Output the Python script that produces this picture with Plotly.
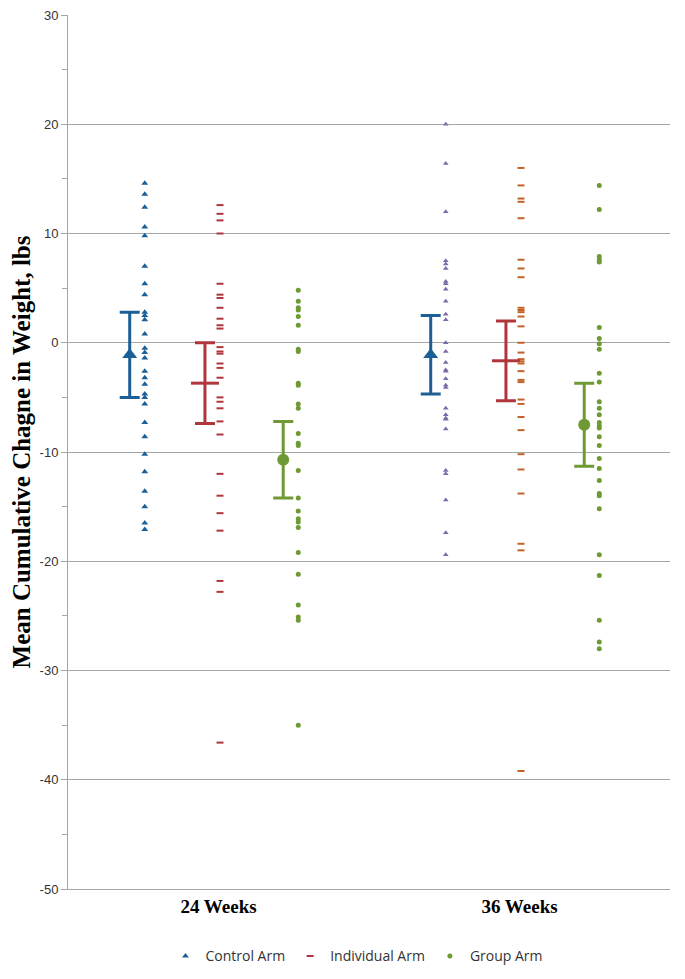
import plotly.graph_objects as go

categories = ["24 Weeks", "36 Weeks"]

control_24 = [14.6, 13.6, 12.4, 10.6, 9.8, 7.0, 5.4, 4.4, 2.8, 2.5, 2.1, 0.8, -0.5, -0.9, -1.4,
              -2.6, -3.2, -3.8, -4.7, -5.0, -5.6, -7.3, -8.6, -10.2, -11.8, -13.6, -15.0, -16.5, -17.1]
individual_24 = [12.6, 11.8, 11.2, 10.0, 5.4, 4.4, 4.1, 3.2, 2.2, 1.6, 1.3, -0.4, -0.8, -1.0, -1.9,
                 -2.3, -3.2, -5.0, -5.4, -6.0, -7.2, -8.4, -12.0, -14.0, -15.6, -17.2, -21.8, -22.8, -36.6]
group_24 = [4.8, 3.8, 3.2, 3.0, 2.4, 1.6, -0.6, -0.8, -3.7, -3.9, -5.6, -6.0, -8.3, -9.2, -9.4,
            -11.7, -14.2, -15.4, -16.1, -16.4, -16.9, -19.2, -21.2, -24.0, -25.1, -25.4, -35.0]

control_36 = [20.0, 16.4, 12.0, 7.5, 7.2, 6.8, 5.6, 5.4, 4.9, 3.8, 2.6, 2.1, 0.0, -0.8, -1.8,
              -2.5, -2.6, -3.3, -3.9, -4.1, -6.0, -6.6, -6.9, -7.0, -7.9, -11.7, -12.0, -14.4, -17.4, -19.4]
individual_36 = [16.0, 14.4, 13.2, 12.9, 11.4, 7.6, 6.8, 6.0, 3.2, 3.0, 2.8, 2.4, 1.5, 0.0, -0.9,
                 -1.5, -1.7, -1.9, -2.6, -3.4, -3.6, -5.2, -5.6, -6.8, -8.0, -10.2, -11.6, -13.8,
                 -18.4, -19.0, -39.2]
group_36 = [14.4, 12.2, 7.9, 7.6, 7.4, 1.4, 0.4, -0.1, -0.6, -2.8, -3.6, -5.4, -6.0, -6.6, -7.3,
            -7.6, -7.8, -8.6, -9.4, -10.6, -11.5, -12.6, -13.8, -14.0, -15.2, -19.4, -21.3, -25.4,
            -27.4, -28.0]

control_mean = [-1.1, -1.1]
control_err = [3.9, 3.6]
individual_mean = [-3.7, -1.65]
individual_err = [3.7, 3.65]
group_mean = [-10.7, -7.5]
group_err = [3.5, 3.8]

y_ticks = [30, 20, 10, 0, -10, -20, -30, -40, -50]
y_tick_labels = ["30", "20", "10", "0", "-10", "-20", "-30", "-40", "-50"]

centers = [0.5, 1.5]

BLUE = "#1C5F96"
PURPLE = "#7A6AA8"
RED = "#B0363C"
ORANGE = "#C2622A"
GREEN = "#6F9A33"
GRID = "#A6A6A6"

fig = go.Figure()

def pts(center, off, vals):
    return [center + off] * len(vals)

# Individual participant points
fig.add_trace(go.Scatter(x=pts(centers[0], -0.245, control_24), y=control_24, mode="markers",
                         name="Control Arm", marker=dict(symbol="triangle-up", size=6, color=BLUE),
                         showlegend=True))
fig.add_trace(go.Scatter(x=pts(centers[1], -0.245, control_36), y=control_36, mode="markers",
                         marker=dict(symbol="triangle-up", size=5, color=PURPLE), showlegend=False))
fig.add_trace(go.Scatter(x=pts(centers[0], 0.005, individual_24), y=individual_24, mode="markers",
                         name="Individual Arm",
                         marker=dict(symbol="line-ew", size=5, color=RED, line=dict(color=RED, width=2)),
                         showlegend=True))
fig.add_trace(go.Scatter(x=pts(centers[1], 0.005, individual_36), y=individual_36, mode="markers",
                         marker=dict(symbol="line-ew", size=5, color=ORANGE, line=dict(color=ORANGE, width=2)),
                         showlegend=False))
fig.add_trace(go.Scatter(x=pts(centers[0], 0.265, group_24), y=group_24, mode="markers",
                         name="Group Arm", marker=dict(symbol="circle", size=5, color=GREEN),
                         showlegend=True))
fig.add_trace(go.Scatter(x=pts(centers[1], 0.265, group_36), y=group_36, mode="markers",
                         marker=dict(symbol="circle", size=5, color=GREEN), showlegend=False))

# Means with error bars
fig.add_trace(go.Scatter(x=[c - 0.295 for c in centers], y=control_mean, mode="markers",
                         marker=dict(symbol="triangle-up", size=13, color=BLUE),
                         error_y=dict(type="data", array=control_err, color=BLUE, thickness=3, width=10),
                         showlegend=False))
fig.add_trace(go.Scatter(x=[c - 0.045 for c in centers], y=individual_mean, mode="markers",
                         marker=dict(symbol="line-ew", size=20, color=RED, line=dict(color=RED, width=3)),
                         error_y=dict(type="data", array=individual_err, color=RED, thickness=3, width=10),
                         showlegend=False))
fig.add_trace(go.Scatter(x=[c + 0.215 for c in centers], y=group_mean, mode="markers",
                         marker=dict(symbol="circle", size=12, color=GREEN),
                         error_y=dict(type="data", array=group_err, color=GREEN, thickness=3, width=10),
                         showlegend=False))

fig.update_layout(
    width=677, height=971,
    margin=dict(l=60, r=15, t=7, b=75),
    plot_bgcolor="white", paper_bgcolor="white",
    font=dict(family="Liberation Sans, Arial, sans-serif", size=13, color="#333333"),
    legend=dict(orientation="h", x=0.48, xanchor="center", y=-0.077, yanchor="middle",
                font=dict(size=14, family="Open Sans, sans-serif", color="#333333"),
                traceorder="normal", itemwidth=30),
    xaxis=dict(range=[0, 2], tickvals=centers, ticktext=categories, automargin=False,
               tickfont=dict(family="Liberation Serif, Times New Roman, serif", size=19, color="black",
                             weight="bold"),
               showgrid=False, zeroline=False, showline=True, linecolor=GRID, linewidth=1,
               ticks="", fixedrange=True),
    yaxis=dict(range=[-50, 30], tickvals=y_ticks, ticktext=y_tick_labels, automargin=False,
               ticklabeloverflow="allow",
               showgrid=True, gridcolor=GRID, gridwidth=1,
               zeroline=False, showline=True, linecolor=GRID, linewidth=1,
               ticks="outside", ticklen=6, tickcolor=GRID,
               minor=dict(dtick=5, ticks="outside", ticklen=5, tickcolor=GRID, showgrid=False),
               tickfont=dict(size=13, color="#333333"),
               title=dict(text="Mean Cumulative Chagne in Weight, lbs", standoff=2,
                          font=dict(family="Liberation Serif, Times New Roman, serif", size=25,
                                    color="black", weight="bold"))),
)

fig.write_html("out.html")
